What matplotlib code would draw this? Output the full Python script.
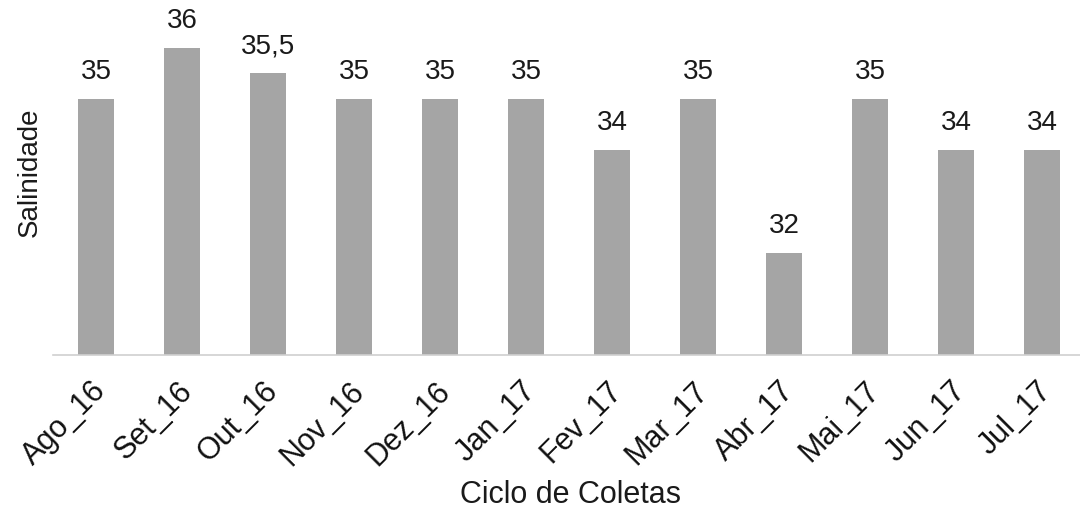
import matplotlib.pyplot as plt
from matplotlib.transforms import ScaledTranslation

# Salinidade por ciclo de coleta
meses = ['Ago_16', 'Set_16', 'Out_16', 'Nov_16', 'Dez_16', 'Jan_17',
         'Fev_17', 'Mar_17', 'Abr_17', 'Mai_17', 'Jun_17', 'Jul_17']
salinidade = [35, 36, 35.5, 35, 35, 35, 34, 35, 32, 35, 34, 34]
rotulos = ['35', '36', '35,5', '35', '35', '35', '34', '35', '32', '35', '34', '34']

plt.rcParams['font.family'] = ['Liberation Sans', 'DejaVu Sans']

fig = plt.figure(figsize=(10.8, 5.12), dpi=100)
ax = fig.add_axes([53 / 1080, 157 / 512, 1 - 53 / 1080, 355 / 512])

x = list(range(len(meses)))
bars = ax.bar(x, salinidade, width=0.41, color='#a5a5a5', zorder=2)

for b, txt in zip(bars, rotulos):
    ax.annotate(txt, (b.get_x() + b.get_width() / 2, b.get_height()),
                xytext=(0, 10), textcoords='offset points',
                ha='center', va='bottom', fontsize=20, color='#1a1a1a')

ax.set_ylim(30, 36.93)
ax.set_xlim(-0.5, 11.5 - 5 / 86)

ax.set_xticks(x)
ax.set_xticklabels(meses, rotation=45, ha='right', rotation_mode='anchor',
                   fontsize=22, color='#111111')
ax.tick_params(axis='x', length=0, pad=15)
ax.set_yticks([])

# nudge the rotated month labels a little to the left
shift = ScaledTranslation(-5 / 100, 0, fig.dpi_scale_trans)
for lbl in ax.get_xticklabels():
    lbl.set_transform(lbl.get_transform() + shift)

for s in ['top', 'right', 'left']:
    ax.spines[s].set_visible(False)
ax.spines['bottom'].set_color('#d0d0d0')
ax.spines['bottom'].set_linewidth(1.2)

fig.text(570 / 1080, 1 - 495 / 512, 'Ciclo de Coletas', ha='center', va='center',
         fontsize=22, color='#1a1a1a')
fig.text(30 / 1080, 1 - 172 / 512, 'Salinidade', ha='center', va='center',
         rotation=90, fontsize=20, color='#1a1a1a')

fig.savefig('out.png', dpi=100)
